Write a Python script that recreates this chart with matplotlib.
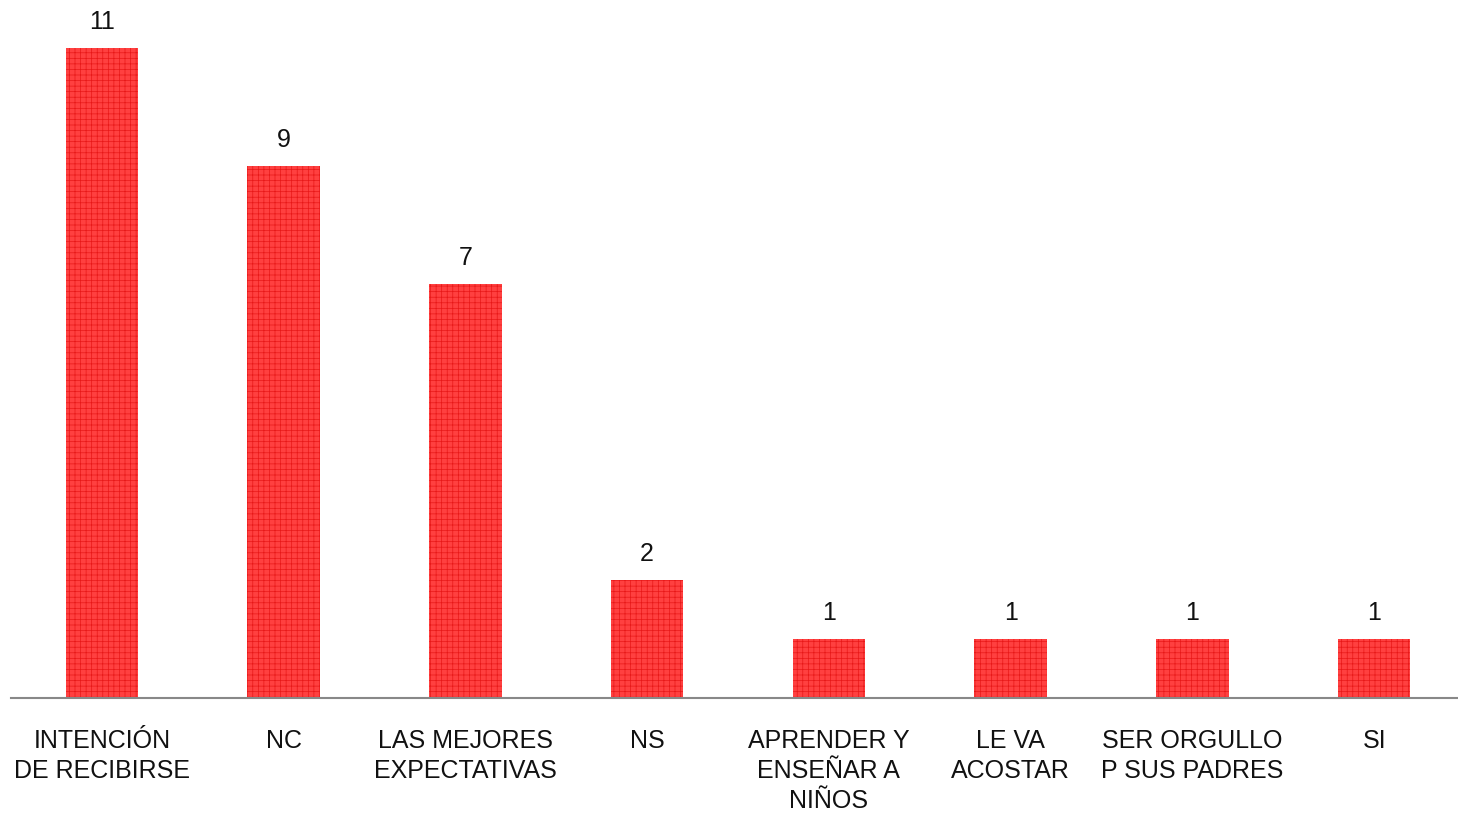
import matplotlib
matplotlib.use("Agg")
import matplotlib.pyplot as plt

categories = ["INTENCIÓN\nDE RECIBIRSE", "NC", "LAS MEJORES\nEXPECTATIVAS", "NS",
              "APRENDER Y\nENSEÑAR A\nNIÑOS", "LE VA\nACOSTAR", "SER ORGULLO\nP SUS PADRES", "SI"]
values = [11, 9, 7, 2, 1, 1, 1, 1]

plt.rcParams['font.family'] = ['Liberation Sans Narrow', 'Liberation Sans', 'DejaVu Sans']
plt.rcParams['hatch.color'] = '#e81818'
plt.rcParams['hatch.linewidth'] = 0.5

fig = plt.figure(figsize=(14.58, 8.16), dpi=100)
ax = fig.add_axes([11/1458, 118/816, 1454/1458, 697.4/816])

x = list(range(len(categories)))
bars = ax.bar(x, values, width=0.4, color='#ff4040', hatch='+++', edgecolor='#e81818', linewidth=0)

for xi, v in zip(x, values):
    ax.annotate(str(v), (xi, v), xytext=(0, 10), textcoords='offset points',
                ha='center', va='bottom', fontsize=18, color='#111111')

ax.set_xlim(-0.5, len(categories) - 0.5)
ax.set_ylim(0, 11.8)
ax.set_xticks(x)
ax.set_xticklabels(categories, fontsize=18, color='#111111', linespacing=1.32)
ax.tick_params(axis='x', length=0, pad=22)
ax.set_yticks([])
for s in ['top', 'right', 'left']:
    ax.spines[s].set_visible(False)
ax.spines['bottom'].set_color('#888888')
ax.spines['bottom'].set_linewidth(1.5)

fig.savefig('out.png', dpi=100)
